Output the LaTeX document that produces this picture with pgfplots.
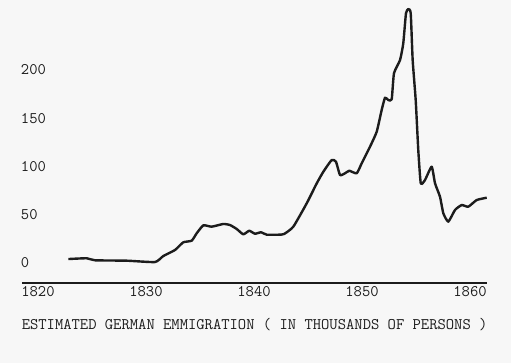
\documentclass[border=0pt]{standalone}
\usepackage{pgfplots}
\pgfplotsset{compat=1.18}
\definecolor{bg}{RGB}{247,247,247}
\definecolor{ink}{RGB}{28,28,28}
\newcommand{\tw}{\fontsize{16.15pt}{18pt}\ttfamily\selectfont}
\begin{document}
\begin{tikzpicture}
\fill[bg] (0,0) rectangle (511pt,363pt);
\path[use as bounding box] (0,0) rectangle (511pt,363pt);
\begin{axis}[
  at={(22pt,80pt)}, anchor=south west,
  scale only axis, width=465.3pt, height=283pt,
  xmin=1818.52, xmax=1861.6, ymin=-20.7, ymax=272.3,
  axis x line*=bottom, axis y line*=left,
  y axis line style={draw=none},
  x axis line style={line width=1.3pt, color=ink},
  major tick length=0pt,
  xtick={1820,1830,1840,1850,1860},
  xticklabels={1820,1830,1840,1850,1860},
  ytick={0,50,100,150,200},
  yticklabels={0,50,100,150,200},
  /pgf/number format/assume math mode=true,
  tick label style={font=\tw, text=ink},
  xticklabel style={anchor=base, yshift=-14pt},
  yticklabel style={anchor=west, xshift=-4.6pt},
  clip=false,
]
\addplot[ink, line width=2.4pt, smooth, tension=0.3, line join=round] coordinates {
(1822.81,4.1) (1824.51,4.9) (1825.28,2.8) (1828.21,2.4) (1830.83,1.0)
(1831.60,7.2) (1832.69,13.5) (1833.45,21.4) (1834.23,23.1) (1834.69,30.7)
(1835.31,39.0) (1836.08,37.6) (1837.16,40.4) (1837.78,39.3) (1838.40,35.2)
(1839.01,29.7) (1839.56,33.4) (1840.09,30.3) (1840.65,31.8) (1841.18,29.3)
(1842.25,29.3) (1842.78,30.0) (1843.64,37.6) (1844.88,61.8) (1845.81,82.5)
(1846.42,94.5) (1847.19,106.6) (1847.59,104.9) (1847.96,91.1) (1848.43,92.9)
(1848.82,95.5) (1849.51,92.9) (1849.97,103.2) (1850.74,120.4) (1851.36,135.9)
(1851.82,158.4) (1852.13,171.1) (1852.44,168.7) (1852.75,169.5) (1852.96,196.4)
(1853.52,210.1) (1853.82,227.4) (1854.07,258.5) (1854.29,262.9) (1854.51,258.5)
(1854.69,210.1) (1854.97,168.7) (1855.21,116.9) (1855.44,82.5) (1855.83,85.9)
(1856.45,99.7) (1856.76,82.5) (1857.22,68.6) (1857.53,51.4) (1857.99,42.8)
(1858.61,54.9) (1859.23,60.0) (1859.84,58.3) (1860.62,65.2) (1861.55,67.6)
};
\node[font=\tw, text=ink, anchor=base] at (rel axis cs:0.5,0) [yshift=-47pt] {ESTIMATED GERMAN EMMIGRATION ( IN THOUSANDS OF PERSONS )};
\end{axis}
\end{tikzpicture}
\end{document}
